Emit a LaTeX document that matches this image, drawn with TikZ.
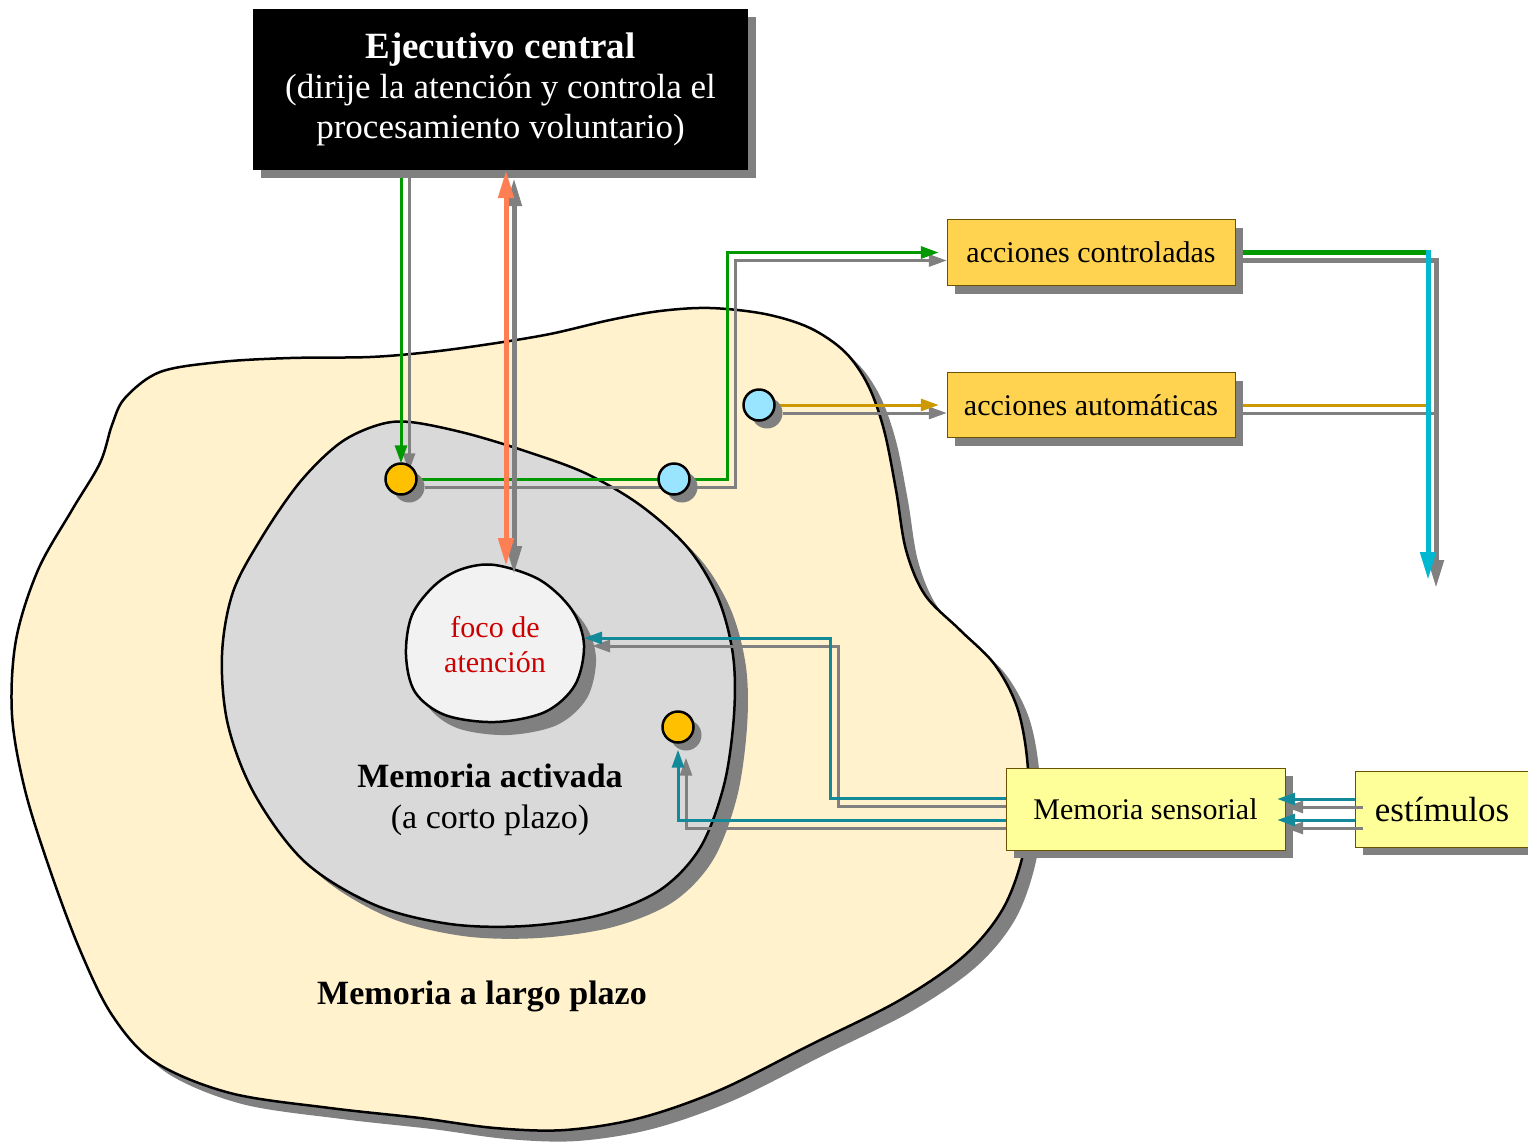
\documentclass[tikz,border=0pt]{standalone}
\usepackage{fontspec}
\setmainfont{Liberation Serif}
\usetikzlibrary{arrows.meta,shadows,calc}
\definecolor{shgray}{HTML}{808080}
\definecolor{cream}{HTML}{FFF2CC}
\definecolor{midgray}{HTML}{D9D9D9}
\definecolor{focofill}{HTML}{F2F2F2}
\definecolor{amber}{HTML}{FFC000}
\definecolor{lightblue}{HTML}{99E4FF}
\definecolor{accfill}{HTML}{FFD34F}
\definecolor{sensfill}{HTML}{FFFF99}
\definecolor{boxedge}{HTML}{6B5200}
\definecolor{greenc}{HTML}{009900}
\definecolor{coralc}{HTML}{FF7F55}
\definecolor{goldc}{HTML}{CC9900}
\definecolor{cyanc}{HTML}{00B8D0}
\definecolor{tealc}{HTML}{138A9A}
\definecolor{redtext}{HTML}{CC0000}
\newcommand\dconn[2]{\draw[#1,shline] #2; \draw[#1] #2;}
\begin{document}
\begin{tikzpicture}[x=1pt,y=-1pt,
  shline/.style={draw=shgray, transform canvas={shift={(8pt,-8pt)}}},
  thinline/.style={line width=3pt},
  thickline/.style={line width=5pt},
  tipS/.style={-{Triangle[length=18pt,width=12pt]}},
  tipL/.style={-{Triangle[length=28pt,width=15pt]}},
  tipLL/.style={{Triangle[length=28pt,width=15pt]}-{Triangle[length=28pt,width=15pt]}},
  blobline/.style={draw=black, line width=2.5pt},
  boxshadow/.style={drop shadow={shadow xshift=8pt, shadow yshift=-8pt, fill=shgray, opacity=1}},
  dot/.style={circle, draw=black, line width=2.5pt, minimum size=31pt, inner sep=0pt, boxshadow},
  actbox/.style={draw=boxedge, line width=1pt, inner sep=0pt, boxshadow, fill=accfill,
     minimum width=288pt, minimum height=66pt, font=\fontsize{30}{36}\selectfont},
  sensbox/.style={draw=boxedge, line width=1pt, inner sep=0pt, boxshadow, fill=sensfill},
  label/.style={align=center, font=\fontsize{34}{41}\selectfont}
]
\useasboundingbox (0,0) rectangle (1528,1144);

% long-term memory
\draw[blobline, fill=cream, preaction={fill=shgray, transform canvas={shift={(12pt,-11pt)}}}]
  plot[smooth cycle, tension=0.55] coordinates {
  (125,398) (160,372) (220,362) (290,358) (370,357) (430,352) (490,344) (550,334)
  (610,320) (660,311) (710,308) (765,314) (810,328) (845,352) (868,385) (884,430)
  (896,490) (906,550) (925,595) (960,630) (995,665) (1018,710) (1028,770) (1026,840)
  (1005,905) (965,955) (900,1000) (810,1045) (720,1090) (640,1118) (565,1130)
  (495,1128) (420,1118) (330,1108) (230,1093) (155,1062) (112,1015) (80,950)
  (50,870) (25,790) (12,715) (16,640) (38,570) (72,510) (100,463) (112,425)};

% activated memory
\draw[blobline, fill=midgray, preaction={fill=shgray, transform canvas={shift={(13pt,-12pt)}}}]
  plot[smooth cycle, tension=0.55] coordinates {
  (410,422) (465,433) (525,451) (585,473) (640,505) (688,548) (718,598) (733,655)
  (734,715) (724,785) (700,848) (660,890) (600,915) (525,926) (450,924) (375,905)
  (305,862) (255,795) (228,725) (222,655) (233,592) (262,537) (300,482) (340,443)
  (378,425)};

% focus
\draw[blobline, fill=focofill, preaction={fill=shgray, transform canvas={shift={(12pt,-13pt)}}}]
  plot[smooth cycle, tension=0.55] coordinates {
  (495,565) (540,580) (572,610) (584,645) (575,685) (545,712) (495,722) (445,715)
  (415,692) (406,655) (412,615) (435,585) (462,569)};

\node[text=redtext, align=center, font=\fontsize{30}{35}\selectfont] (foco) at (495,645) {foco de\\atención};
\node[label] (ma) at (490,800) {\textbf{Memoria activada}\\(a corto plazo)};
\node[font=\bfseries\fontsize{34}{41}\selectfont] (mlp) at (482,996) {Memoria a largo plazo};

% named points
\coordinate (foctop) at (506,566);
\coordinate (focright) at (584,638);
\coordinate (gk) at (727,479);
\coordinate (k3) at (1428,580);
\coordinate (k4) at (1426,405);
\coordinate (t1) at (830,798);
\coordinate (t2) at (678,820);
\coordinate (t3) at (1355,799);
\coordinate (t4) at (1355,820);

\path (401,479) coordinate (c1p) (674,479) coordinate (c2p) (759,405) coordinate (c3p) (678,727) coordinate (c4p);
\node[circle, minimum size=31pt, inner sep=0pt] (c1) at (c1p) {};
\node[circle, minimum size=31pt, inner sep=0pt] (c2) at (c2p) {};
\node[circle, minimum size=31pt, inner sep=0pt] (c3) at (c3p) {};
\node[circle, minimum size=31pt, inner sep=0pt] (c4) at (c4p) {};

\coordinate (execp) at (500.5,89.5);
\coordinate (acc1p) at (1091,252.5);
\coordinate (acc2p) at (1091,405);
\coordinate (msp) at (1145.5,809);
\coordinate (estp) at (1445,809);
\path (execp) node[minimum width=495pt, minimum height=161pt, inner sep=0pt] (exec) {};
\path (acc1p) node[minimum width=288pt, minimum height=66pt, inner sep=0pt] (acc1) {};
\path (acc2p) node[minimum width=288pt, minimum height=66pt, inner sep=0pt] (acc2) {};
\path (msp) node[minimum width=279pt, minimum height=82pt, inner sep=0pt] (ms) {};
\path (estp) node[minimum width=180pt, minimum height=76pt, inner sep=0pt] (est) {};
\coordinate (k2) at (acc1.east -| k3);

% connectors under the boxes
\dconn{draw=greenc, thinline, tipS}{(exec.south -| c1) -- (c1.north)}
\dconn{draw=greenc, thinline, tipS, shorten >=8pt}{(c1) -- (gk) |- (acc1.west)}
\dconn{draw=goldc, thinline, tipS, shorten >=8pt}{(c3) -- (acc2.west |- c3)}
\dconn{draw=greenc, thickline}{(acc1.east) -- (k2)}
\dconn{draw=goldc, thinline}{(acc2.east |- c3) -- (k4)}
\dconn{draw=cyanc, thickline, tipL}{([yshift=2.5pt]k2) -- (k3)}
\dconn{draw=tealc, thinline, tipS}{(ms.west |- t1) -- (t1) |- (focright)}
\dconn{draw=tealc, thinline, tipS, shorten >=7pt}{(ms.west |- t2) -- (t2) -- (c4.south)}

% boxes
\node[fill=black, text=white, inner sep=0pt, minimum width=495pt, minimum height=161pt, boxshadow,
  align=center, font=\fontsize{35}{40}\selectfont] (execbox) at (execp)
  {{\bfseries\fontsize{37}{40}\selectfont Ejecutivo central}\\(dirije la atención y controla el\\procesamiento voluntario)};
\node[actbox] (acc1box) at (acc1p) {acciones controladas};
\node[actbox, minimum height=65pt] (acc2box) at (acc2p) {acciones automáticas};
\node[sensbox, minimum width=279pt, minimum height=82pt, font=\fontsize{30}{36}\selectfont] (msbox) at (msp) {Memoria sensorial};
\node[sensbox, minimum width=180pt, minimum height=76pt, font=\fontsize{35}{40}\selectfont] (estbox) at (estp) {\hspace*{-6pt}estímulos};

% connectors over the boxes
\dconn{draw=coralc, thickline, tipLL}{(exec.south -| foctop) -- (foctop)}
\dconn{draw=tealc, thinline, tipS, shorten >=-8pt}{(t3) -- (ms.east |- t3)}
\dconn{draw=tealc, thinline, tipS, shorten >=-8pt}{(t4) -- (ms.east |- t4)}

% circles
\node[dot, fill=amber] at (c1p) {};
\node[dot, fill=lightblue] at (c2p) {};
\node[dot, fill=lightblue] at (c3p) {};
\node[dot, fill=amber] at (c4p) {};
\end{tikzpicture}
\end{document}
